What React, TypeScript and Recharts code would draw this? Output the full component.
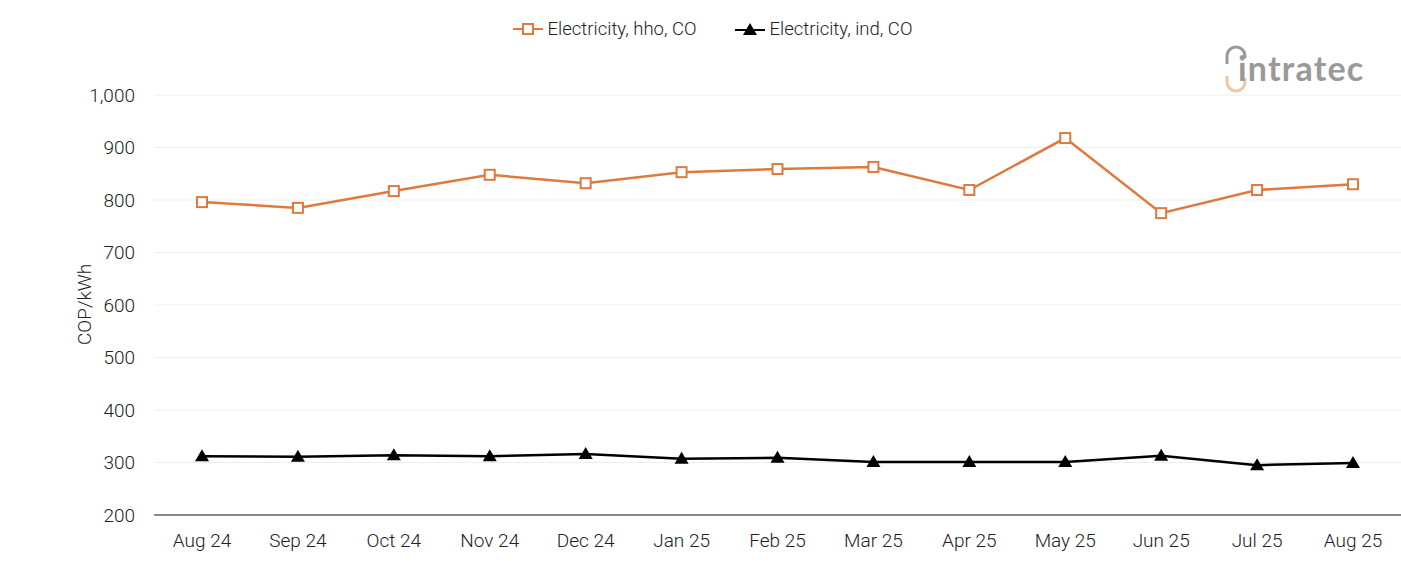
import { CartesianGrid, Legend, Line, LineChart, XAxis, YAxis } from "recharts";

const months = [
  "Aug 24", "Sep 24", "Oct 24", "Nov 24", "Dec 24", "Jan 25", "Feb 25",
  "Mar 25", "Apr 25", "May 25", "Jun 25", "Jul 25", "Aug 25",
];
const hhoValues = [796, 785, 817, 848, 832, 853, 859, 863, 819, 918, 775, 819, 830];
const indValues = [312, 311, 314, 312, 316, 307, 309, 301, 301, 301, 313, 295, 299];
const yTicks = [200, 300, 400, 500, 600, 700, 800, 900, 1000];

const HHO = "Electricity, hho, CO";
const IND = "Electricity, ind, CO";
const ORANGE = "#de7a3e";

const data = months.map((m, i) => ({ month: m, hho: hhoValues[i], ind: indValues[i] }));

const fmt = (v: number) => v.toLocaleString("en-US");

function SquareDot(props: any) {
  const { cx, cy, index } = props;
  if (cx == null || cy == null) return null;
  return (
    <rect key={`sq-${index}`} x={cx - 5} y={cy - 5} width={10} height={10}
      fill="#fff" stroke={ORANGE} strokeWidth={2} />
  );
}

function TriDot(props: any) {
  const { cx, cy, index } = props;
  if (cx == null || cy == null) return null;
  return (
    <polygon key={`tr-${index}`}
      points={`${cx},${cy - 7} ${cx + 7},${cy + 5} ${cx - 7},${cy + 5}`} fill="#000" />
  );
}

function LegendBox() {
  return (
    <div style={{ display: "flex", justifyContent: "center", gap: 38, fontSize: 18.5, fontWeight: 300, color: "#222", marginLeft: 24 }}>
      <span style={{ display: "flex", alignItems: "center", gap: 5 }}>
        <svg width={30} height={14}>
          <line x1={0} y1={7} x2={30} y2={7} stroke={ORANGE} strokeWidth={2} />
          <rect x={10} y={2} width={10} height={10} fill="#fff" stroke={ORANGE} strokeWidth={2} />
        </svg>
        {HHO}
      </span>
      <span style={{ display: "flex", alignItems: "center", gap: 5 }}>
        <svg width={30} height={14}>
          <line x1={0} y1={8} x2={30} y2={8} stroke="#000" strokeWidth={2} />
          <polygon points="15,1 22,13 8,13" fill="#000" />
        </svg>
        {IND}
      </span>
    </div>
  );
}

const tickStyle = { fill: "#222", fontSize: 19, fontWeight: 300 };

export default function App() {
  return (
    <div style={{ position: "absolute", left: 0, top: 0, width: 1401, height: 561, background: "#fff", fontFamily: "Roboto, sans-serif" }}>
      <div style={{ position: "absolute", left: 1222, top: 42, display: "flex", alignItems: "center", zIndex: 2 }}>
        <svg width={30} height={54}>
          <path d="M5 22 V14 a9 9 0 0 1 18 0 V16" fill="none" stroke="#9a9a9a" strokeWidth={3} />
          <path d="M5 34 V40 a9 9 0 0 0 18 0 V36" fill="none" stroke="#eec7a6" strokeWidth={3} />
        </svg>
        <span style={{ fontFamily: "Lato, sans-serif", fontWeight: 700, fontSize: 34, color: "#999", marginLeft: -14, marginTop: -4, letterSpacing: 1.2 }}>
          intratec
        </span>
      </div>
      <LineChart width={1401} height={561} data={data} margin={{ top: 28, right: 0, bottom: 0, left: 0 }}>
        <Legend verticalAlign="top" height={67} content={() => <LegendBox />} wrapperStyle={{ top: 18 }} />
        <CartesianGrid vertical={false} stroke="#eeeeee" />
        <XAxis dataKey="month" axisLine={{ stroke: "#666", strokeWidth: 1.5 }} tickLine={false}
          tick={tickStyle} tickMargin={13} height={46}
          padding={{ left: 48, right: 48 }} interval={0} />
        <YAxis domain={[200, 1000]} ticks={yTicks} tickFormatter={fmt} axisLine={false}
          tickLine={false} width={154} tick={tickStyle} tickMargin={13}
          label={{ value: "COP/kWh", angle: -90, position: "insideLeft", offset: 84, dy: 40, style: tickStyle }} />
        <Line dataKey="hho" name={HHO} stroke={ORANGE} strokeWidth={2.5} dot={SquareDot}
          isAnimationActive={false} />
        <Line dataKey="ind" name={IND} stroke="#000" strokeWidth={2.5} dot={TriDot}
          isAnimationActive={false} />
      </LineChart>
    </div>
  );
}
